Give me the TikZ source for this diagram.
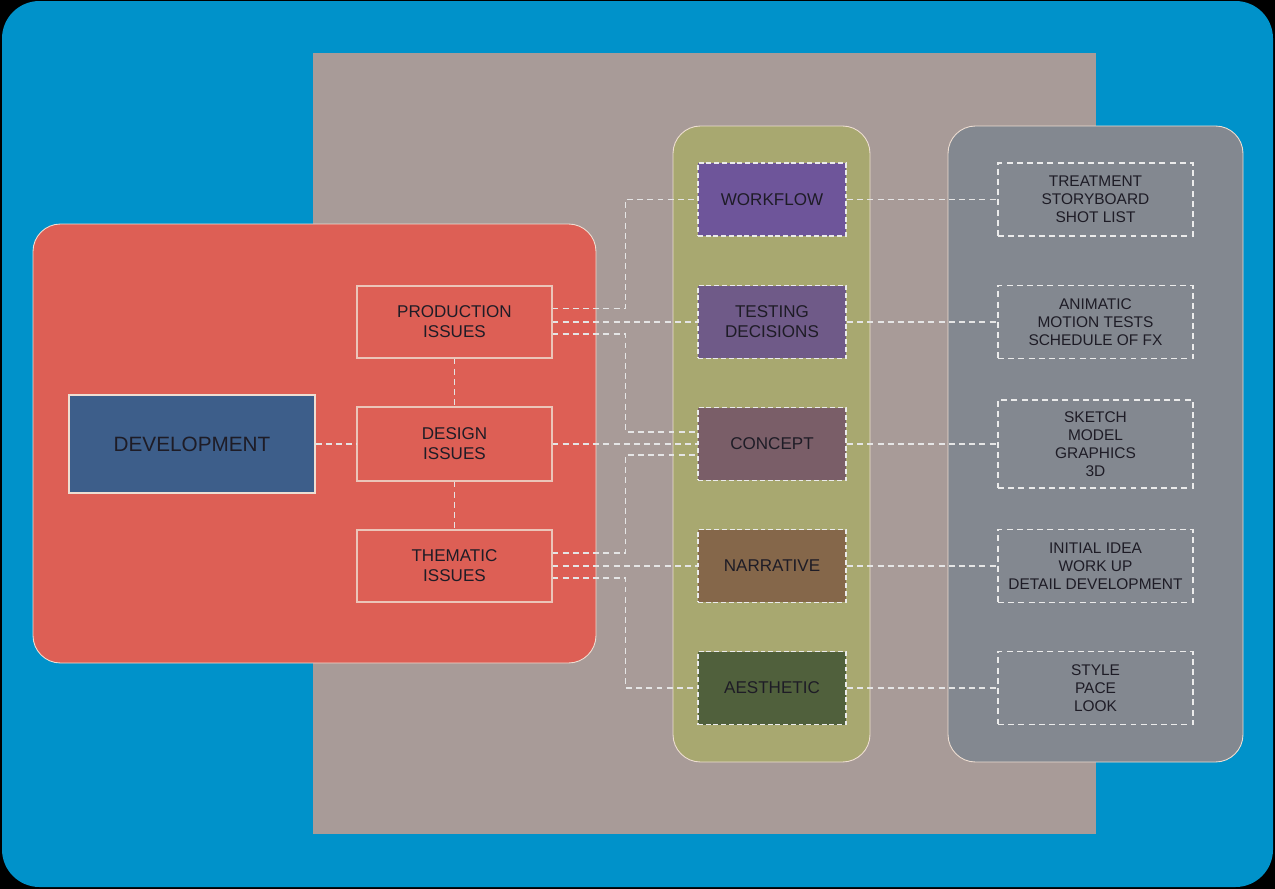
\documentclass[tikz,border=0pt]{standalone}
\usepackage{fontspec}
\setmainfont{Liberation Sans}
\definecolor{skyblue}{RGB}{0,146,202}
\definecolor{taupe}{RGB}{168,155,152}
\definecolor{coral}{RGB}{221,95,85}
\definecolor{olive}{RGB}{168,168,112}
\definecolor{slate}{RGB}{131,136,144}
\definecolor{devblue}{RGB}{61,94,138}
\definecolor{workcol}{RGB}{110,85,154}
\definecolor{testcol}{RGB}{111,90,136}
\definecolor{conccol}{RGB}{122,94,104}
\definecolor{narrcol}{RGB}{133,103,74}
\definecolor{aestcol}{RGB}{80,96,60}
\definecolor{inkcol}{RGB}{30,28,38}
\definecolor{edgecol}{RGB}{238,222,210}
\begin{document}
\begin{tikzpicture}[x=0.02cm, y=-0.02cm,
  every node/.style={text=inkcol, align=center, inner sep=0pt},
  panel/.style={draw=edgecol, line width=0.5pt, rounded corners=0.55cm},
  issuebox/.style={draw=edgecol!80!coral, line width=0.6pt, minimum width=3.9cm,
    minimum height=1.44cm, font=\fontsize{9.7}{11.4}\selectfont},
  stagebox/.style={draw=white!92!black, dash pattern=on 2.8pt off 1.6pt, line width=1.1pt,
    minimum width=2.96cm, minimum height=1.46cm, font=\fontsize{9.7}{11.4}\selectfont},
  itembox/.style={draw=white!92!black, dash pattern=on 3.4pt off 2.4pt, line width=0.8pt,
    minimum width=3.9cm, minimum height=1.46cm, font=\fontsize{8.8}{10.2}\selectfont},
  link/.style={draw=white!90!black, dash pattern=on 3.4pt off 2.4pt, line width=0.75pt}]

  % frame
  \useasboundingbox (0,0) rectangle (1275,889);
  \fill[black] (0,0) rectangle (1275,889);
  \fill[skyblue, rounded corners=0.75cm] (2,1) rectangle (1273,887);
  \fill[taupe] (313,53) rectangle (1096,834);

  % panels
  \filldraw[panel, fill=coral] (33,224) rectangle (596,663);
  \filldraw[panel, fill=olive] (673,126) rectangle (870,762);
  \filldraw[panel, fill=slate] (948,126) rectangle (1243,762);

  % development and issues
  \node[draw=edgecol, line width=0.7pt, fill=devblue, minimum width=4.92cm, minimum height=1.96cm,
    font=\fontsize{11.8}{14}\selectfont] (dev) at (192,444) {DEVELOPMENT};
  \node[issuebox] (prod) at (454.5,322) {PRODUCTION\\ISSUES};
  \node[issuebox, minimum height=1.48cm] (design) at (454.5,444) {DESIGN\\ISSUES};
  \node[issuebox] (them) at (454.5,566) {THEMATIC\\ISSUES};

  % stages
  \node[stagebox, fill=workcol] (work) at (772,199.5) {WORKFLOW};
  \node[stagebox, fill=testcol] (test) at (772,322) {TESTING\\DECISIONS};
  \node[stagebox, fill=conccol] (conc) at (772,444) {CONCEPT};
  \node[stagebox, fill=narrcol] (narr) at (772,566) {NARRATIVE};
  \node[stagebox, fill=aestcol] (aest) at (772,688) {AESTHETIC};

  % items
  \node[itembox] (workitems) at (1095.5,199.5) {TREATMENT\\STORYBOARD\\SHOT LIST};
  \node[itembox] (testitems) at (1095.5,322) {ANIMATIC\\MOTION TESTS\\SCHEDULE OF FX};
  \node[itembox, minimum height=1.76cm] (concitems) at (1095.5,444) {SKETCH\\MODEL\\GRAPHICS\\3D};
  \node[itembox] (narritems) at (1095.5,566) {INITIAL IDEA\\WORK UP\\DETAIL DEVELOPMENT};
  \node[itembox] (aestitems) at (1095.5,688) {STYLE\\PACE\\LOOK};

  % links on the left
  \draw[link] (dev) -- (design);
  \draw[link] (prod) -- (design);
  \draw[link] (design) -- (them);
  \draw[link] ([yshift=0.27cm]prod.east) -- ++(73,0) |- (work.west);
  \draw[link] (prod.east) -- (test.west);
  \draw[link] ([yshift=-0.24cm]prod.east) -- ++(73,0) |- ([yshift=0.24cm]conc.west);
  \draw[link] (design.east) -- (conc.west);
  \draw[link] ([yshift=0.26cm]them.east) -- ++(73,0) |- ([yshift=-0.22cm]conc.west);
  \draw[link] (them.east) -- (narr.west);
  \draw[link] ([yshift=-0.24cm]them.east) -- ++(73,0) |- (aest.west);

  % links on the right
  \foreach \s in {work,test,conc,narr,aest}
    \draw[link] (\s.east) -- (\s items.west);
\end{tikzpicture}
\end{document}
